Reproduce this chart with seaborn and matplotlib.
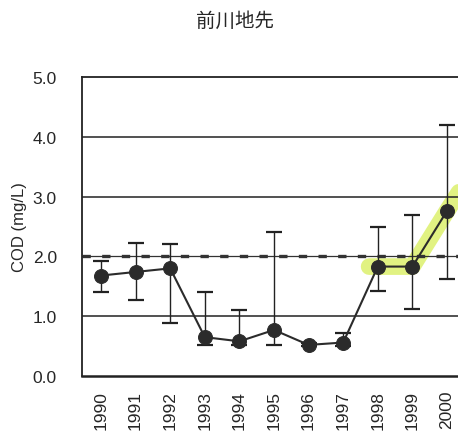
import numpy as np
import pandas as pd
import matplotlib
matplotlib.use('Agg')
import matplotlib.pyplot as plt
import seaborn as sns

# données
years = [1990, 1991, 1992, 1993, 1994, 1995, 1996, 1997, 1998, 1999, 2000]
cod_mean = [1.68, 1.74, 1.80, 0.65, 0.58, 0.77, 0.52, 0.56, 1.83, 1.83, 2.76]
cod_max = [1.93, 2.23, 2.20, 1.41, 1.10, 2.40, 0.55, 0.72, 2.50, 2.70, 4.20]
cod_min = [1.41, 1.27, 0.88, 0.52, 0.52, 0.52, 0.50, 0.50, 1.42, 1.12, 1.62]
standard = 2.0
yticks = [0.0, 1.0, 2.0, 3.0, 4.0, 5.0]

# surlignage (marqueur jaune sur le scan)
hl_years = [1997.75, 1998, 1999, 2000, 2000.4]
hl_vals = [1.83, 1.83, 1.83, 2.76, 3.12]

df = pd.DataFrame({'year': years, 'cod': cod_mean})

sns.set_style('white')
plt.rcParams['font.family'] = ['Liberation Sans', 'Noto Sans CJK JP', 'DejaVu Sans']

fig = plt.figure(figsize=(4.58, 4.35), dpi=100)
ax = fig.add_axes([0.179, 0.1333, 0.8725, 0.6874])

ax.plot(hl_years, hl_vals, color='#dcf06c', lw=12, alpha=0.85,
        solid_capstyle='round', solid_joinstyle='round', zorder=1)

for y in [1.0, 3.0, 4.0]:
    ax.axhline(y, color='#222222', lw=1.1, zorder=2)
ax.axhline(standard, color='#333333', lw=0.9, zorder=2)
ax.axhline(standard, color='#333333', lw=2.4, ls=(0, (2.5, 3.4)), zorder=2)

err = [np.array(cod_mean) - np.array(cod_min), np.array(cod_max) - np.array(cod_mean)]
ax.errorbar(years, cod_mean, yerr=err, fmt='none', ecolor='#222222',
            elinewidth=1.0, capsize=6, capthick=1.6, zorder=3)
sns.lineplot(data=df, x='year', y='cod', ax=ax, color='#2b2b2b', lw=1.5,
             marker='o', markersize=10, markeredgecolor='#2b2b2b', zorder=4)

ax.set_xlim(1989.45, 2001)
ax.set_ylim(0, 5)
ax.set_xticks(years)
ax.set_xticklabels([str(y) for y in years], rotation=90, fontsize=12.5)
ax.set_yticks(yticks)
ax.set_yticklabels([f'{v:.1f}' for v in yticks], fontsize=12.5)
ax.tick_params(axis='y', length=0, pad=18)
ax.tick_params(axis='x', length=0, pad=10)
ax.set_xlabel('')
ax.set_ylabel('COD (mg/L)', fontsize=12, labelpad=4)

for s in ax.spines.values():
    s.set_color('#222222')
    s.set_linewidth(1.3)
ax.spines['bottom'].set_linewidth(1.8)

fig.text(0.513, 0.952, '前川地先', ha='center', va='center', fontsize=14,
         family=['Noto Sans CJK JP', 'DejaVu Sans'])

fig.savefig('out.png', dpi=100)
